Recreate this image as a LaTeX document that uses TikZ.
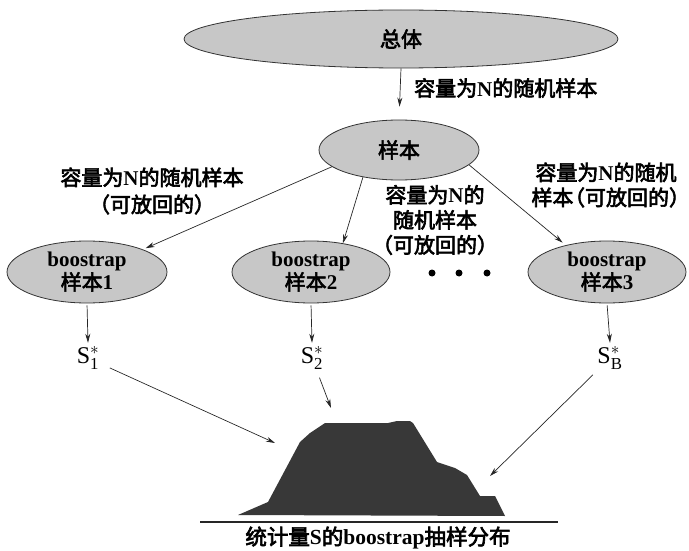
\documentclass[tikz,border=0pt]{standalone}
\usepackage{fontspec}
\setmainfont{Liberation Serif}
\newfontfamily\cjk{Noto Sans CJK SC}[BoldFont=Noto Sans CJK SC, BoldFeatures={FakeBold=3}]
\usetikzlibrary{shapes.geometric,arrows.meta}
\newcommand\lpar[1]{\makebox[#1][r]{（}}
\newcommand\rpar[1]{\makebox[#1][l]{）}}
\begin{document}
\begin{tikzpicture}[x=1pt,y=-1pt,
  el/.style={ellipse,draw=black!80,fill=black!22,line width=0.8pt,inner sep=0pt,align=center,
    font=\fontsize{21}{23}\selectfont\bfseries},
  arr/.style={draw=black!85,line width=0.7pt,-{Stealth[length=9pt,width=5pt]}},
  lbl/.style={align=center,font=\fontsize{21}{25}\selectfont\bfseries,inner sep=0pt},
  snode/.style={inner sep=0pt,minimum height=30pt,font=\fontsize{24}{26}\selectfont},
  dot/.style={circle,fill=black,inner sep=0pt,minimum size=7pt},
]
\useasboundingbox (0,0) rectangle (689,551);

% ellipses
\node[el,minimum width=434pt,minimum height=58pt] (zt) at (401,39) {\cjk 总体};
\node[el,minimum width=160pt,minimum height=60pt] (yb) at (399,150) {\cjk 样本};
\node[el,minimum width=160pt,minimum height=62pt] (b1) at (87,272) {boostrap\\{\cjk 样本}1};
\node[el,minimum width=158pt,minimum height=62pt] (b2) at (311,272) {boostrap\\{\cjk 样本}2};
\node[el,minimum width=158pt,minimum height=62pt] (b3) at (607,272) {boostrap\\{\cjk 样本}3};

% labels
\node[lbl,anchor=west] (l0) at (414,88) {{\cjk 容量为}N{\cjk 的随机样本}};
\node[lbl,font=\fontsize{21}{27}\selectfont\bfseries] (l1) at (152,191) {{\cjk 容量为}N{\cjk 的随机样本}\\{\cjk （可放回的）}};
\node[lbl] (l2) at (435,220) {{\cjk 容量为}N{\cjk 的}\\{\cjk 随机样本}\\{\cjk \lpar{0.7em}可放回的\rpar{0.7em}}};
\node[lbl] (l3) at (606,185) {{\cjk 容量为}N{\cjk 的随机}\\{\cjk 样本\lpar{0.55em}可放回的\rpar{0.55em}}};

% dots
\node[dot] (d1) at (432,273) {};
\node[dot] (d2) at (459,273) {};
\node[dot] (d3) at (487,273) {};

% statistics
\node[snode] (s1) at (88,358) {$\mathrm{S}_{\mathrm{1}}^{*}$};
\node[snode] (s2) at (312,358) {$\mathrm{S}_{\mathrm{2}}^{*}$};
\node[snode] (s3) at (610,358) {$\mathrm{S}_{\mathrm{B}}^{*}$};

% distribution shape
\fill[black!78] (238,515) -- (268,502) -- (300,442) -- (310,433) -- (325,423) -- (388,423)
  -- (397,421) -- (410,421) -- (413,423) -- (437,462) -- (455,468) -- (467,475)
  -- (480,496) -- (495,496) -- (505,516) -- cycle;
\coordinate (m1) at (275,443);
\coordinate (m2) at (331,408);
\coordinate (m3) at (490,476);
\coordinate (bl) at (200,522);
\coordinate (br) at (558,522);
\draw[line width=1.3pt,black!85] (bl) -- (br);
\node[lbl,font=\fontsize{21.5}{25}\selectfont\bfseries] (t) at (378,538) {{\cjk 统计量}S{\cjk 的}boostrap{\cjk 抽样分布}};

% arrows
\draw[arr,shorten >=13pt] (zt.south) -- (yb.north);
\draw[arr,shorten >=3pt] (yb.194.7) -- (b1.22);
\draw[arr] (yb.217.6) -- (b2.42);
\draw[arr,shorten >=4pt] (yb.348.5) -- (b3.147);
\draw[arr,shorten <=2pt] (b1.south) -- (s1.north);
\draw[arr,shorten <=2pt] (b2.south) -- (s2.north);
\draw[arr,shorten <=2pt] (b3.south) -- (s3.north);
\draw[arr,shorten <=24pt] (s1.center) -- (m1);
\draw[arr,shorten <=21pt] (s2.center) -- (m2);
\draw[arr,shorten <=24pt] (s3.center) -- (m3);
\end{tikzpicture}
\end{document}
